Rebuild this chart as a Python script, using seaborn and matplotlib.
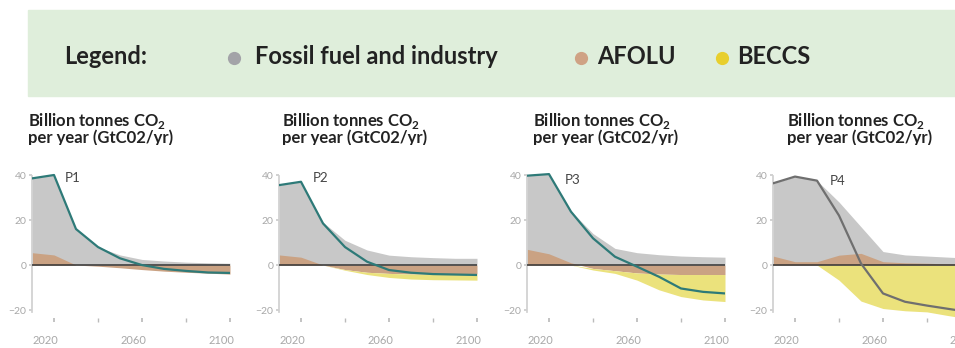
import matplotlib
matplotlib.use("Agg")
import matplotlib.pyplot as plt
import matplotlib.transforms as mtransforms
from matplotlib.lines import Line2D
from matplotlib.patches import Rectangle
import numpy as np
import seaborn as sns

# --- data (GtCO2 / yr) --------------------------------------------------
years = [2010, 2020, 2030, 2040, 2050, 2060, 2070, 2080, 2090, 2100]
panel_names = ["P1", "P2", "P3", "P4"]

p1_fossil = [38.5, 40, 16, 8, 4.5, 2.5, 1.8, 1.3, 1.0, 0.8]
p1_afolu = [5.5, 4.5, 0, -0.5, -1.2, -2.0, -2.7, -3.2, -3.6, -4.0]
p1_beccs = [0, 0, 0, 0, 0, 0, 0, 0, 0, 0]
p1_net = [38.5, 40, 16, 8, 3, 0, -1.7, -2.6, -3.3, -3.5]

p2_fossil = [35.5, 37, 19, 11, 6.7, 4.4, 3.7, 3.3, 3.0, 3.0]
p2_afolu = [4.5, 3.5, 0, -2.0, -3.2, -3.7, -4.0, -4.0, -4.0, -4.0]
p2_beccs = [0, 0, 0, -0.3, -1.0, -1.8, -2.2, -2.5, -2.6, -2.7]
p2_net = [35.5, 37, 18.5, 8, 1.5, -2.2, -3.4, -4.0, -4.2, -4.4]

p3_fossil = [40, 40.5, 24, 14, 7.4, 5.5, 4.6, 4.0, 3.7, 3.5]
p3_afolu = [7, 5, 1, -1.5, -2.5, -3.5, -4.0, -4.2, -4.2, -4.2]
p3_beccs = [0, 0, 0, -0.7, -1.2, -3.2, -7.0, -9.8, -11.3, -12.0]
p3_net = [39.7, 40.4, 23.7, 11.9, 3.7, -0.7, -5.2, -10.4, -11.9, -12.6]

p4_fossil = [36.3, 39.3, 37.5, 28, 17, 6, 4.5, 4.0, 3.5, 3.0]
p4_afolu = [4, 1.5, 1.5, 4.4, 5.2, 1.5, 1.0, 0.8, 0.5, 0.5]
p4_beccs = [0, 0, 0, -6.7, -16, -19.3, -20.3, -20.8, -22.5, -24]
p4_net = [36.3, 39.3, 37.5, 22, 0.7, -12.6, -16.3, -18, -19.5, -21]

fossil = [p1_fossil, p2_fossil, p3_fossil, p4_fossil]
afolu = [p1_afolu, p2_afolu, p3_afolu, p4_afolu]
beccs = [p1_beccs, p2_beccs, p3_beccs, p4_beccs]
net = [p1_net, p2_net, p3_net, p4_net]

legend_labels = ["Fossil fuel and industry", "AFOLU", "BECCS"]
title_text = "Billion tonnes CO$_{\\mathbf{2}}$\nper year (GtC02/yr)"
y_ticks = [-20, 0, 20, 40]
x_labels = [2020, 2060, 2100]

# --- style ---------------------------------------------------------------
sns.set_theme(style="white")
plt.rcParams["font.family"] = ["Lato", "DejaVu Sans"]
plt.rcParams["mathtext.fontset"] = "custom"
plt.rcParams["mathtext.rm"] = "Lato"
plt.rcParams["mathtext.bf"] = "Lato:bold"

GREY = "#c8c8c8"
TAN = "#caa283"
YELLOW = "#ebe27c"
TEAL = "#2e7a78"
DARK = "#6f6f6f"
W, H = 955, 348

fig = plt.figure(figsize=(W / 100, H / 100), dpi=100)


def fx(px):
    return px / W


def fy(py):
    return 1 - py / H


# legend band
fig.patches.append(Rectangle((fx(28), fy(96)), fx(W - 28), (96 - 10) / H,
                             transform=fig.transFigure, color="#dfeedb", zorder=0))
fig.text(fx(64), fy(56), "Legend:", fontsize=17, fontweight="bold",
         color="#222222", va="center")
legend_items = [(234, 255, "#a3a3a8"), (581, 597, "#cfa284"), (722, 737, "#e8cf2d")]
for (dot_x, txt_x, col), lab in zip(legend_items, legend_labels):
    fig.add_artist(Line2D([fx(dot_x)], [fy(58)], marker="o", markersize=8.5,
                          color=col, linestyle="none", transform=fig.transFigure))
    fig.text(fx(txt_x), fy(56), lab, fontsize=17, fontweight="bold",
             color="#222222", va="center")

axis_left = [32, 279, 527, 773]
title_left = [28, 282, 533, 787]
label_pos = [(2025, 38.5), (2025.5, 38.5), (2027, 38), (2036, 37.5)]
# the reference cuts the second title line just under its baseline
clip = mtransforms.TransformedBbox(
    mtransforms.Bbox([[0, fy(144.5)], [1, 1]]), fig.transFigure)

for i in range(4):
    ax = fig.add_axes([fx(axis_left[i]), fy(320), fx(198), (320 - 170.5) / H])
    yrs = np.array(years)
    fo = np.array(fossil[i])
    af = np.array(afolu[i])
    neg = np.minimum(af, 0)
    ax.fill_between(yrs, 0, fo, color=GREY, lw=0, zorder=1)
    ax.fill_between(yrs, 0, af, color=TAN, lw=0, zorder=2)
    ax.fill_between(yrs, neg, neg + np.array(beccs[i]), color=YELLOW, lw=0, zorder=2)
    ax.axhline(0, color="#333333", lw=1.1, zorder=3)
    sns.lineplot(x=years, y=net[i], ax=ax, color=DARK if i == 3 else TEAL,
                 lw=1.6, zorder=4)

    ax.set_xlim(2010, 2100)
    ax.set_ylim(-24.4, 42)
    ax.set_yticks(y_ticks)
    ax.set_xticks(x_labels)
    ax.set_xticks([2040, 2080], minor=True)
    ax.tick_params(axis="y", labelsize=7.5, labelcolor="#a8a8a8", length=2,
                   color="#cccccc", left=True, pad=2)
    ax.tick_params(axis="x", which="both", labelsize=8, labelcolor="#a8a8a8",
                   length=3, color="#bbbbbb", bottom=True, direction="inout", pad=9)
    offset = mtransforms.ScaledTranslation(-6 / 72, 0, fig.dpi_scale_trans)
    for lab in ax.get_xticklabels():
        lab.set_transform(lab.get_transform() + offset)
    for side in ["top", "right", "bottom"]:
        ax.spines[side].set_visible(False)
    ax.spines["left"].set_color("#d0d0d0")
    ax.spines["left"].set_bounds(-21, 39.5)
    ax.set_xlabel("")
    ax.set_ylabel("")
    ax.text(*label_pos[i], panel_names[i], fontsize=9.5, color="#444444",
            va="center", zorder=5)

    t = fig.text(fx(title_left[i]), fy(143), title_text, fontsize=12,
                 fontweight="bold", color="#222222", va="baseline",
                 linespacing=0.85)
    t.set_clip_on(True)
    t.set_clip_box(clip)

fig.savefig("out.png", dpi=100)
